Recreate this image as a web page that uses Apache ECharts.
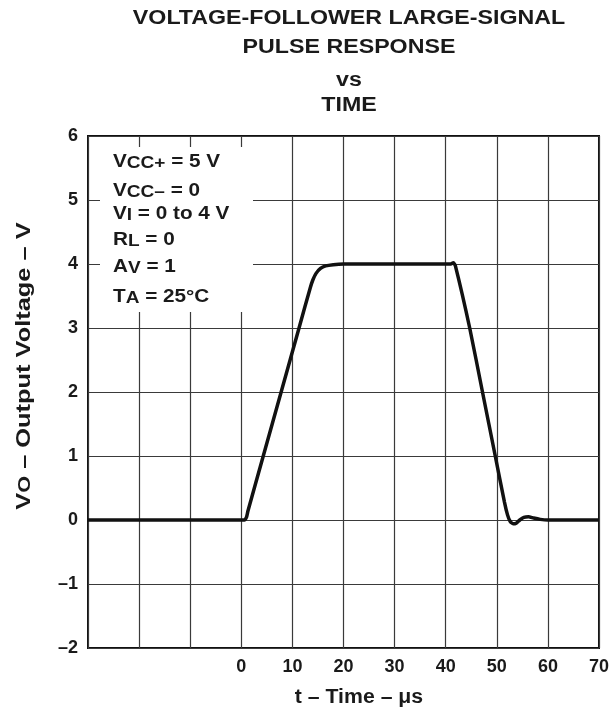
<!DOCTYPE html>
<html>
<head>
<meta charset="utf-8">
<script src="https://cdn.jsdelivr.net/npm/echarts@6/dist/echarts.min.js"></script>
<style>
html,body{margin:0;padding:0;background:#fff;}
#c{width:612px;height:710px;}
</style>
</head>
<body>
<div id="c"></div>
<script>
// ---- data ----
const timeUs = [-30, 0, 0.6, 1.0, 1.3, 4.3, 7.8, 11.3, 13.5, 14.0, 14.6, 15.5, 16.5, 18, 20, 30, 40, 41.0, 41.5, 41.9, 44.7, 47.2, 49.7, 51.5, 52.1, 52.6, 53.2, 53.8, 54.5, 55.3, 56.2, 57.2, 58.5, 60, 70];
const voltage = [0, 0, 0, 0.04, 0.14, 1, 2, 3, 3.63, 3.75, 3.85, 3.93, 3.97, 3.99, 4.0, 4.0, 4.0, 4.0, 4.02, 3.97, 3, 2, 1, 0.28, 0.08, -0.02, -0.06, -0.05, 0.0, 0.04, 0.05, 0.03, 0.01, 0, 0];
const xTicks = {min: -30, max: 70, step: 10};
const yTicks = {min: -2, max: 6, step: 1};
const titleLines = ['VOLTAGE-FOLLOWER LARGE-SIGNAL', 'PULSE RESPONSE', 'vs', 'TIME'];
const conditions = [
  ['V', 'CC+', ' = 5 V'],
  ['V', 'CC–', ' = 0'],
  ['V', 'I', ' = 0 to 4 V'],
  ['R', 'L', ' = 0'],
  ['A', 'V', ' = 1'],
  ['T', 'A', ' = 25°C']
];
const xName = 't – Time – μs';
const yName = ['V', 'O', ' – Output Voltage – V'];

const FONT = 'Liberation Sans, Arial, Helvetica, sans-serif';
const chart = echarts.init(document.getElementById('c'), null, {renderer: 'canvas'});

function rich(main, sub, drop) {
  return {
    m: {fontSize: main, fontWeight: 'bold', fontFamily: FONT, fill: '#1a1a1a', lineHeight: 20},
    s: {fontSize: sub, fontWeight: 'bold', fontFamily: FONT, fill: '#1a1a1a', lineHeight: 20 - 2 * drop, verticalAlign: 'bottom'}
  };
}

const graphics = [];
const titleY = [19, 47.5, 81, 106];
titleLines.forEach((t, i) => {
  graphics.push({
    type: 'text', x: 349, y: titleY[i], scaleX: 1.19, z: 10,
    style: {text: t, font: 'bold 19.5px ' + FONT, fill: '#1a1a1a', textAlign: 'center', textVerticalAlign: 'middle'}
  });
});
// conditions box
graphics.push({type: 'rect', z: 5, shape: {x: 100, y: 147, width: 153, height: 165}, style: {fill: '#fff'}});
const condY = [162, 191, 214, 240, 267, 297];
conditions.forEach((c, i) => {
  graphics.push({
    type: 'text', x: 113, y: condY[i], scaleX: 1.12, z: 10,
    style: {text: '{m|' + c[0] + '}{s|' + c[1] + '}{m|' + c[2] + '}', rich: rich(18.5, 17, 6), textAlign: 'left', textVerticalAlign: 'middle'}
  });
});
// axis names
graphics.push({
  type: 'text', x: 359, y: 698, scaleX: 1.09, z: 10,
  style: {text: xName, font: 'bold 19.5px ' + FONT, fill: '#1a1a1a', textAlign: 'center', textVerticalAlign: 'middle'}
});
graphics.push({
  type: 'text', x: 24, y: 366, rotation: Math.PI / 2, scaleX: 1.27, z: 10,
  style: {text: '{m|' + yName[0] + '}{s|' + yName[1] + '}{m|' + yName[2] + '}', rich: rich(20, 17, 6), textAlign: 'center', textVerticalAlign: 'middle'}
});

chart.setOption({
  animation: false,
  backgroundColor: '#fff',
  grid: {left: 88, right: 12.5, top: 136, bottom: 62, show: true, borderColor: '#111', borderWidth: 2, backgroundColor: 'transparent'},
  xAxis: {
    type: 'value', min: xTicks.min, max: xTicks.max, interval: xTicks.step,
    axisLine: {show: false}, axisTick: {show: false},
    splitLine: {show: true, lineStyle: {color: '#3a3a3a', width: 1.2}},
    axisLabel: {
      margin: 10, fontSize: 18, fontWeight: 'bold', fontFamily: FONT, color: '#1a1a1a',
      formatter: v => v < 0 ? '' : String(v)
    }
  },
  yAxis: {
    type: 'value', min: yTicks.min, max: yTicks.max, interval: yTicks.step,
    axisLine: {show: false}, axisTick: {show: false},
    splitLine: {show: true, lineStyle: {color: '#3a3a3a', width: 1.2}},
    axisLabel: {
      margin: 10, fontSize: 18, fontWeight: 'bold', fontFamily: FONT, color: '#1a1a1a',
      formatter: v => v < 0 ? '–' + Math.abs(v) : String(v)
    }
  },
  series: [{
    type: 'line',
    data: timeUs.map((t, i) => [t, voltage[i]]),
    showSymbol: false,
    smooth: 0.2,
    lineStyle: {color: '#111', width: 3.5},
    z: 3
  }],
  graphic: graphics
});
</script>
</body>
</html>
